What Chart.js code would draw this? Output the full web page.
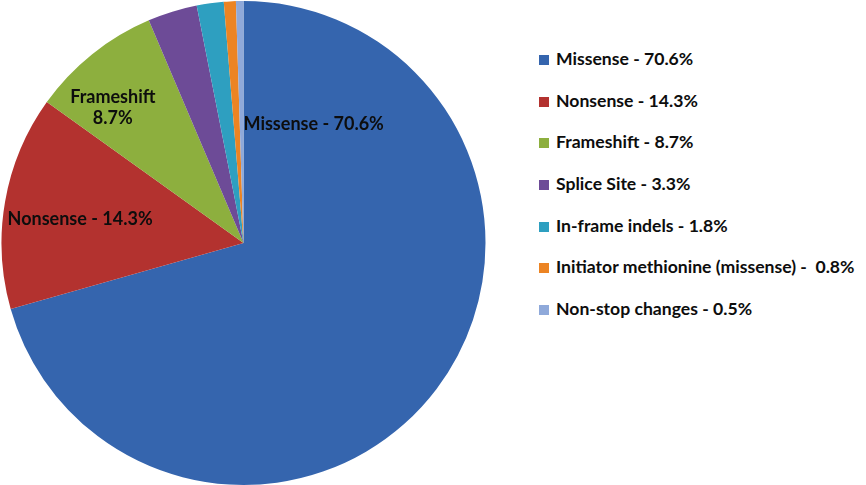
<!DOCTYPE html>
<html>
<head>
<meta charset="utf-8">
<script src="https://cdn.jsdelivr.net/npm/chart.js@4.4.1/dist/chart.umd.min.js"></script>
<style>
  body { margin: 0; background: #fff; width: 866px; height: 485px; position: relative; overflow: hidden; }
  #pieWrap { position: absolute; left: 0; top: 0; width: 487px; height: 486px; }
  #legend { position: absolute; left: 539px; top: 48px; font-family: Lato, "Open Sans", sans-serif; font-weight: bold; font-size: 17.6px; color: #0d0d0d; }
  #legend .row { height: 41.7px; display: flex; align-items: flex-start; white-space: pre; }
  #legend .box { width: 10px; height: 10px; margin-right: 7px; margin-top: 7px; }
</style>
</head>
<body>
<div id="pieWrap"><canvas id="grafica" width="487" height="486"></canvas></div>
<div id="legend"></div>
<script>
// tipos de mutación
const categorias = ['Missense', 'Nonsense', 'Frameshift', 'Splice Site', 'In-frame indels', 'Initiator methionine (missense)', 'Non-stop changes'];
const porcentajes = [70.6, 14.3, 8.7, 3.3, 1.8, 0.8, 0.5];
const etiquetasLeyenda = ['Missense - 70.6%', 'Nonsense - 14.3%', 'Frameshift - 8.7%', 'Splice Site - 3.3%', 'In-frame indels - 1.8%', 'Initiator methionine (missense) -  0.8%', 'Non-stop changes - 0.5%'];
const colores = ['#3565ae', '#b3322f', '#8daf3e', '#6d4b97', '#2e9fc0', '#ec8423', '#8fa9da'];

// leyenda html
const leyenda = document.getElementById('legend');
etiquetasLeyenda.forEach((txt, i) => {
  const row = document.createElement('div');
  row.className = 'row';
  row.innerHTML = '<div class="box" style="background:' + colores[i] + '"></div><span>' + txt + '</span>';
  leyenda.appendChild(row);
});

// etiquetas dentro del pastel (posición relativa al centro, en fracciones del radio)
const etiquetasPie = [
  { idx: 0, lines: ['Missense - 70.6%'], dx: 0.0, dy: -0.49, align: 'left' },
  { idx: 1, lines: ['Nonsense - 14.3%'], dx: -0.975, dy: -0.10, align: 'left' },
  { idx: 2, lines: ['Frameshift', '8.7%'], dx: -0.54, dy: -0.603, align: 'center' }
];

const pluginEtiquetas = {
  id: 'etiquetas',
  afterDatasetsDraw(chart) {
    const arc = chart.getDatasetMeta(0).data[0];
    const cx = arc.x, cy = arc.y, r = arc.outerRadius;
    const ctx = chart.ctx;
    ctx.save();
    ctx.font = 'bold 18px Lato, "Open Sans", sans-serif';
    ctx.fillStyle = '#0d0d0d';
    ctx.textBaseline = 'middle';
    etiquetasPie.forEach(et => {
      ctx.textAlign = et.align;
      et.lines.forEach((ln, j) => {
        ctx.fillText(ln, cx + et.dx * r, cy + et.dy * r + j * 21);
      });
    });
    ctx.restore();
  }
};

const ctx = document.getElementById('grafica').getContext('2d');
window.graficaInstance = new Chart(ctx, {
  type: 'pie',
  data: {
    labels: categorias,
    datasets: [{
      data: porcentajes,
      backgroundColor: colores,
      borderWidth: 0
    }]
  },
  options: {
    responsive: false,
    animation: false,
    layout: { padding: 1 },
    plugins: {
      legend: { display: false },
      tooltip: { enabled: false }
    }
  },
  plugins: [pluginEtiquetas]
});
</script>
</body>
</html>
